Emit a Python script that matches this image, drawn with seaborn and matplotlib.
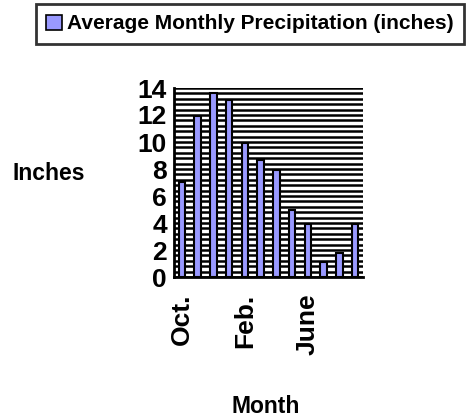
import numpy as np
import matplotlib.pyplot as plt
import seaborn as sns
import pandas as pd
from matplotlib.ticker import MultipleLocator
from matplotlib.patches import Patch

months = ['Oct.', 'Nov.', 'Dec.', 'Jan.', 'Feb.', 'Mar.', 'Apr.', 'May', 'June', 'July', 'Aug.', 'Sep.']
precip = [7.0, 11.9, 13.6, 13.1, 9.9, 8.7, 7.9, 5.0, 3.9, 1.1, 1.8, 3.9]
series_name = 'Average Monthly Precipitation (inches)'
bar_color = '#9999ff'

df = pd.DataFrame({'Month': months, 'Inches': precip})

sns.set_style('white')
plt.rcParams['font.family'] = ['Liberation Sans', 'DejaVu Sans']
plt.rcParams['font.weight'] = 'bold'
plt.rcParams['text.color'] = 'black'
plt.rcParams['xtick.color'] = 'black'
plt.rcParams['ytick.color'] = 'black'

fig = plt.figure(figsize=(4.68, 4.19), dpi=100)
ax = fig.add_axes([174 / 468, 142 / 419, 189 / 468, 189 / 419])

sns.barplot(data=df, x='Month', y='Inches', color=bar_color, edgecolor='black',
            linewidth=1.5, width=0.4, saturation=1, ax=ax)

ax.set_xlim(-0.5, len(months) - 0.5)
ax.set_ylim(0, 14)
ax.yaxis.set_major_locator(MultipleLocator(2))
ax.yaxis.set_minor_locator(MultipleLocator(0.4))
ax.grid(True, which='both', axis='y', color='black', lw=1.8)
ax.set_axisbelow(True)

# labels only every 4th month, tick marks between categories
ax.set_xticks(range(0, len(months), 4))
ax.set_xticklabels(months[::4], rotation=90, fontsize=19, fontweight='bold')
ax.set_xticks(np.arange(-0.5, len(months)), minor=True)
ax.tick_params(axis='x', which='major', length=0, pad=12, labelcolor='black')
ax.tick_params(axis='x', which='minor', length=5, width=1.8, direction='out', color='black')
ax.tick_params(axis='y', which='major', length=5, width=1.8, direction='out', color='black',
               labelsize=19, pad=0, labelcolor='black')
ax.tick_params(axis='y', which='minor', length=0)
for lab in ax.get_yticklabels():
    lab.set_fontweight('bold')

for s in ['top', 'right']:
    ax.spines[s].set_visible(False)
for s in ['left', 'bottom']:
    ax.spines[s].set_linewidth(2)
    ax.spines[s].set_color('black')

ax.set_xlabel('')
ax.set_ylabel('')
fig.text(12 / 468, 1 - 174 / 419, 'Inches', fontsize=16.5, fontweight='bold', va='center', ha='left',
         color='black')
fig.text(266 / 468, 1 - 406 / 419, 'Month', fontsize=16.5, fontweight='bold', va='center', ha='center',
         color='black')

handle = Patch(facecolor=bar_color, edgecolor='black', linewidth=1.2)
leg = fig.legend([handle], [series_name], loc='upper left', bbox_to_anchor=(36 / 468, 1 - 4 / 419),
                 fancybox=False, frameon=True, prop={'weight': 'bold', 'size': 15},
                 handlelength=0.75, handleheight=0.75, handletextpad=0.25, borderpad=0.5,
                 borderaxespad=0, labelcolor='black')
leg.get_frame().set_edgecolor('black')
leg.get_frame().set_linewidth(2)

fig.savefig('out.png', dpi=100)
